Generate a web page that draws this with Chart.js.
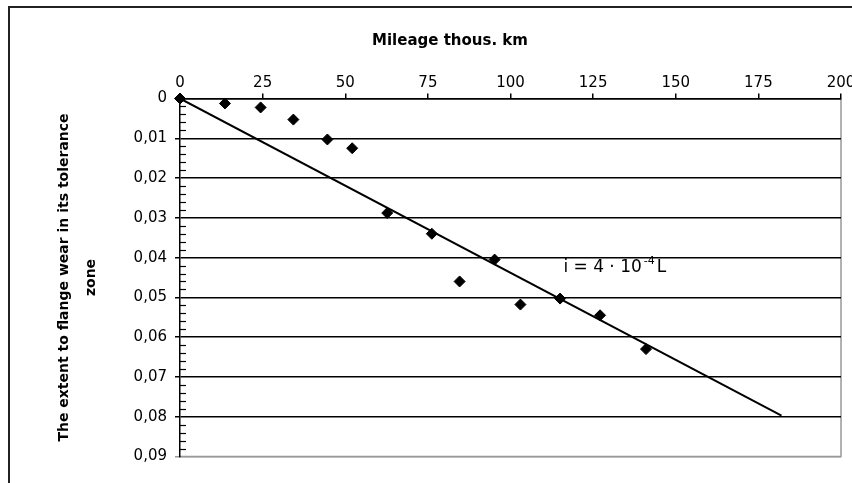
<!DOCTYPE html>
<html><head><meta charset="utf-8">
<script src="https://cdn.jsdelivr.net/npm/chart.js@4.4.1/dist/chart.umd.min.js"></script>
<style>
html,body{margin:0;padding:0;background:#fff;overflow:hidden;width:852px;height:483px;}
#wrap{position:absolute;left:0;top:0;width:900px;height:483px;}
</style></head><body>
<div id="wrap"><canvas id="c" width="900" height="483"></canvas></div>
<script>
// ---- data ----
const mileage = [0, 13.6, 24.4, 34.3, 44.6, 52.1, 62.7, 76.2, 84.6, 95.2, 103, 115, 127.1, 141];
const wear = [0, 0.00125, 0.00225, 0.0053, 0.0103, 0.0125, 0.0288, 0.034, 0.046, 0.0405, 0.0518, 0.0503, 0.0545, 0.063];
const trendMileage = [0, 182];
const trendWear = [0, 0.0797];
const xTicks = [0, 25, 50, 75, 100, 125, 150, 175, 200];
const xTickLabels = ['0', '25', '50', '75', '100', '125', '150', '175', '200'];
const yTicks = [0, 0.01, 0.02, 0.03, 0.04, 0.05, 0.06, 0.07, 0.08, 0.09];
const yTickLabels = ['0', '0,01', '0,02', '0,03', '0,04', '0,05', '0,06', '0,07', '0,08', '0,09'];
const yMinorStep = 0.002;
const xTitle = 'Mileage thous. km';
const yTitle = ['The extent to flange wear in its tolerance', 'zone'];
const formula = { main: 'i = 4 · 10', sup: '-4', tail: 'L' };

const FONT = '"DejaVu Sans", Verdana, sans-serif';

const framePlugin = {
  id: 'frame',
  beforeDraw(chart) {
    const ctx = chart.ctx;
    ctx.save();
    ctx.fillStyle = '#fff';
    ctx.fillRect(0, 0, chart.width, chart.height);
    ctx.strokeStyle = '#222';
    ctx.lineWidth = 2;
    ctx.strokeRect(9, 7, 2000, 2000);
    const a = chart.chartArea;
    ctx.strokeStyle = '#999';
    ctx.lineWidth = 1.5;
    ctx.beginPath();
    ctx.moveTo(a.right, a.top);
    ctx.lineTo(a.right, a.bottom);
    ctx.lineTo(a.left, a.bottom);
    ctx.stroke();
    ctx.restore();
  }
};

const minorPlugin = {
  id: 'minorTicks',
  afterDraw(chart) {
    const ctx = chart.ctx;
    const ys = chart.scales.y;
    const x0 = chart.chartArea.left;
    ctx.save();
    ctx.strokeStyle = '#000';
    ctx.lineWidth = 1.2;
    const n = Math.round((ys.max - ys.min) / yMinorStep);
    for (let k = 0; k <= n; k++) {
      if (k % 5 === 0) continue;
      const y = Math.round(ys.getPixelForValue(ys.min + k * yMinorStep)) + 0.5;
      ctx.beginPath();
      ctx.moveTo(x0, y);
      ctx.lineTo(x0 + 6, y);
      ctx.stroke();
    }
    ctx.restore();
  }
};

const formulaPlugin = {
  id: 'formula',
  afterDatasetsDraw(chart) {
    const ctx = chart.ctx;
    const x = chart.scales.x.getPixelForValue(116);
    const y = chart.scales.y.getPixelForValue(0.0425);
    ctx.save();
    ctx.fillStyle = '#000';
    ctx.textBaseline = 'middle';
    ctx.textAlign = 'left';
    ctx.font = '17px ' + FONT;
    ctx.fillText(formula.main, x, y);
    let w = ctx.measureText(formula.main).width + 2;
    ctx.font = '11px ' + FONT;
    ctx.fillText(formula.sup, x + w, y - 6);
    w += ctx.measureText(formula.sup).width + 2;
    ctx.font = '17px ' + FONT;
    ctx.fillText(formula.tail, x + w, y);
    ctx.restore();
  }
};

new Chart(document.getElementById('c'), {
  type: 'scatter',
  data: {
    datasets: [
      {
        type: 'line',
        data: trendMileage.map((v, i) => ({ x: v, y: trendWear[i] })),
        borderColor: '#000',
        borderWidth: 2,
        pointRadius: 0,
        fill: false,
        order: 2
      },
      {
        data: mileage.map((v, i) => ({ x: v, y: wear[i] })),
        pointStyle: 'rectRot',
        pointRadius: 5.5,
        backgroundColor: '#000',
        borderColor: '#000',
        borderWidth: 1,
        clip: false,
        order: 1
      }
    ]
  },
  options: {
    responsive: false,
    animation: false,
    devicePixelRatio: 1,
    layout: { padding: { left: 0, right: 0, top: 0, bottom: 26.5 } },
    plugins: {
      legend: { display: false },
      tooltip: { enabled: false },
      title: {
        display: true,
        text: xTitle,
        color: '#000',
        font: { family: FONT, size: 15, weight: 'bold', lineHeight: 1.2 },
        padding: { top: 32, bottom: 10 }
      }
    },
    scales: {
      x: {
        type: 'linear',
        position: 'top',
        min: 0,
        max: 200,
        afterBuildTicks: s => { s.ticks = xTicks.map(v => ({ value: v })); },
        afterFit: s => { s.height = 38.5; s.paddingRight = 59; s.paddingLeft = 0; },
        ticks: {
          color: '#000',
          font: { family: FONT, size: 15 },
          padding: 1,
          maxRotation: 0,
          autoSkip: false,
          callback: (v, i) => xTickLabels[i]
        },
        grid: { drawOnChartArea: false, drawTicks: true, tickLength: 5, color: '#000', lineWidth: 1.5 },
        border: { display: true, color: '#000', width: 1.5 }
      },
      y: {
        type: 'linear',
        reverse: true,
        min: 0,
        max: 0.09,
        afterBuildTicks: s => { s.ticks = yTicks.map(v => ({ value: v })); },
        afterFit: s => { s.width = 180; },
        ticks: {
          color: '#000',
          font: { family: FONT, size: 15 },
          padding: 8,
          autoSkip: false,
          callback: (v, i) => yTickLabels[i]
        },
        grid: {
          color: c => (c.index === yTicks.length - 1 ? '#999' : '#000'),
          lineWidth: 1.5,
          tickLength: 5,
          drawOnChartArea: true
        },
        border: { display: true, color: '#000', width: 1.5 },
        title: {
          display: true,
          text: yTitle,
          color: '#000',
          font: { family: FONT, size: 14, weight: 'bold', lineHeight: 1.93 },
          padding: { top: 50.5, bottom: 0 }
        }
      }
    }
  },
  plugins: [framePlugin, minorPlugin, formulaPlugin]
});
</script>
</body></html>
